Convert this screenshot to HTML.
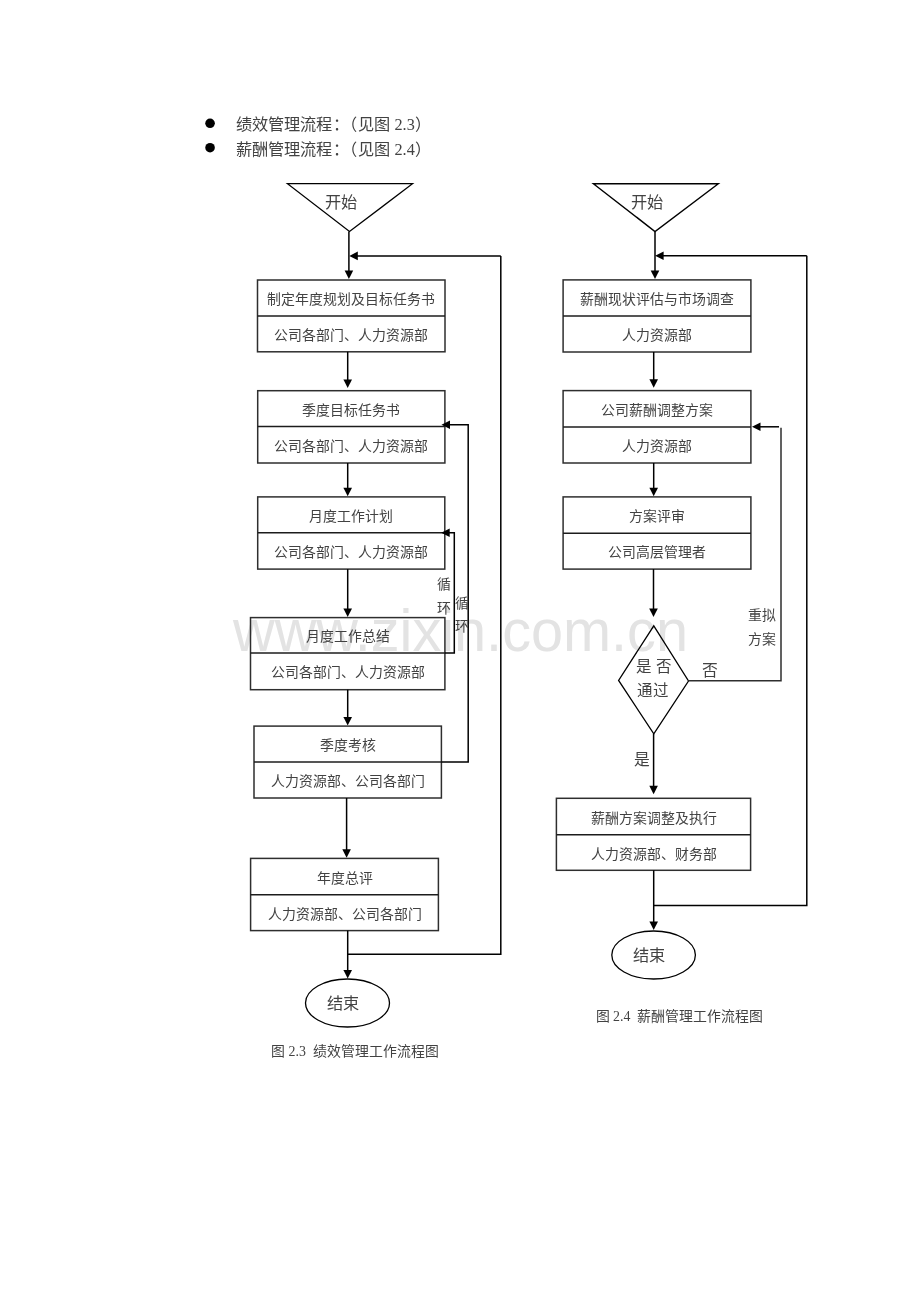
<!DOCTYPE html>
<html lang="zh-CN"><head><meta charset="utf-8"><title>绩效管理流程</title>
<style>
html,body{margin:0;padding:0;background:#fff;}
body{width:920px;height:1302px;overflow:hidden;position:relative;font-family:"Liberation Serif",serif;}
svg{position:absolute;left:0;top:0;will-change:transform;}
text{font-family:"Liberation Serif",serif;fill:#424242;}
</style></head><body>
<svg width="920" height="1302" viewBox="0 0 920 1302">
<text x="233" y="651.2" style="font-family:'Liberation Sans',sans-serif;font-size:59px;fill:#e3e3e3" textLength="455" lengthAdjust="spacingAndGlyphs">www.zixin.com.cn</text>
<circle cx="210.05" cy="123.3" r="4.8" fill="#000"/>
<circle cx="210.05" cy="147.7" r="4.8" fill="#000"/>
<text y="129.5" font-size="16.2"><tspan x="236.2">绩效管理流程</tspan><tspan x="333">：</tspan><tspan x="341">（</tspan><tspan x="357.5">见图</tspan><tspan x="394.5">2.3</tspan><tspan x="415">）</tspan></text>
<text y="155.1" font-size="16.2"><tspan x="236.2">薪酬管理流程</tspan><tspan x="333">：</tspan><tspan x="341">（</tspan><tspan x="357.5">见图</tspan><tspan x="394.5">2.4</tspan><tspan x="415">）</tspan></text>
<path d="M287.5,183.7 L412.5,183.7 L349.5,231.5 Z" fill="none" stroke="#000" stroke-width="1.3" stroke-linejoin="miter"/>
<text x="340.5" y="208.49" font-size="16.2" text-anchor="middle">开始</text>
<line x1="348.9" y1="231.5" x2="348.9" y2="271.6" stroke="#000" stroke-width="1.5"/>
<polygon points="344.60,270.60 353.20,270.60 348.90,279.10" fill="#000"/>
<line x1="500.8" y1="255.9" x2="354" y2="255.9" stroke="#000" stroke-width="1.5"/>
<polygon points="357.80,251.60 357.80,260.20 349.30,255.90" fill="#000"/>
<rect x="257.5" y="280" width="187.50" height="71.80" fill="none" stroke="#2e2e2e" stroke-width="1.5"/>
<line x1="257.5" y1="316" x2="445" y2="316" stroke="#1c1c1c" stroke-width="1.5"/>
<text x="351.25" y="304.00" font-size="13.9" text-anchor="middle">制定年度规划及目标任务书</text>
<text x="351.25" y="339.90" font-size="13.9" text-anchor="middle">公司各部门、人力资源部</text>
<line x1="347.7" y1="351.8" x2="347.7" y2="380.5" stroke="#000" stroke-width="1.5"/>
<polygon points="343.40,379.50 352.00,379.50 347.70,388.00" fill="#000"/>
<rect x="257.7" y="390.7" width="187.20" height="72.30" fill="none" stroke="#2e2e2e" stroke-width="1.5"/>
<line x1="257.7" y1="426.6" x2="444.9" y2="426.6" stroke="#1c1c1c" stroke-width="1.5"/>
<text x="351.29999999999995" y="414.65" font-size="13.9" text-anchor="middle">季度目标任务书</text>
<text x="351.29999999999995" y="450.80" font-size="13.9" text-anchor="middle">公司各部门、人力资源部</text>
<line x1="347.7" y1="463" x2="347.7" y2="488.8" stroke="#000" stroke-width="1.5"/>
<polygon points="343.40,487.80 352.00,487.80 347.70,496.30" fill="#000"/>
<rect x="257.7" y="496.9" width="187.10" height="72.20" fill="none" stroke="#2e2e2e" stroke-width="1.5"/>
<line x1="257.7" y1="532.8" x2="444.8" y2="532.8" stroke="#1c1c1c" stroke-width="1.5"/>
<text x="351.25" y="520.85" font-size="13.9" text-anchor="middle">月度工作计划</text>
<text x="351.25" y="556.95" font-size="13.9" text-anchor="middle">公司各部门、人力资源部</text>
<line x1="347.7" y1="569.1" x2="347.7" y2="609.5" stroke="#000" stroke-width="1.5"/>
<polygon points="343.40,608.50 352.00,608.50 347.70,617.00" fill="#000"/>
<rect x="250.5" y="617.6" width="194.40" height="72.10" fill="none" stroke="#2e2e2e" stroke-width="1.5"/>
<line x1="250.5" y1="653.1" x2="444.9" y2="653.1" stroke="#1c1c1c" stroke-width="1.5"/>
<text x="347.7" y="641.35" font-size="13.9" text-anchor="middle">月度工作总结</text>
<text x="347.7" y="677.40" font-size="13.9" text-anchor="middle">公司各部门、人力资源部</text>
<line x1="347.7" y1="689.7" x2="347.7" y2="718.0" stroke="#000" stroke-width="1.5"/>
<polygon points="343.40,717.00 352.00,717.00 347.70,725.50" fill="#000"/>
<rect x="254.0" y="726.1" width="187.40" height="71.90" fill="none" stroke="#2e2e2e" stroke-width="1.5"/>
<line x1="254.0" y1="762" x2="441.4" y2="762" stroke="#1c1c1c" stroke-width="1.5"/>
<text x="347.7" y="750.05" font-size="13.9" text-anchor="middle">季度考核</text>
<text x="347.7" y="786.00" font-size="13.9" text-anchor="middle">人力资源部、公司各部门</text>
<line x1="346.6" y1="798" x2="346.6" y2="850.3" stroke="#000" stroke-width="1.5"/>
<polygon points="342.30,849.30 350.90,849.30 346.60,857.80" fill="#000"/>
<rect x="250.6" y="858.4" width="187.80" height="72.20" fill="none" stroke="#2e2e2e" stroke-width="1.5"/>
<line x1="250.6" y1="894.7" x2="438.4" y2="894.7" stroke="#1c1c1c" stroke-width="1.5"/>
<text x="344.5" y="882.55" font-size="13.9" text-anchor="middle">年度总评</text>
<text x="344.5" y="918.65" font-size="13.9" text-anchor="middle">人力资源部、公司各部门</text>
<line x1="347.7" y1="930.6" x2="347.7" y2="970.9" stroke="#000" stroke-width="1.5"/>
<polygon points="343.40,969.90 352.00,969.90 347.70,978.40" fill="#000"/>
<ellipse cx="347.5" cy="1003" rx="42" ry="24" fill="none" stroke="#000" stroke-width="1.3"/>
<text x="343" y="1009.39" font-size="16.2" text-anchor="middle">结束</text>
<path d="M347.7,954.2 L500.8,954.2 L500.8,255.9" fill="none" stroke="#000" stroke-width="1.5" stroke-linejoin="miter"/>
<path d="M444.9,653.1 L454.3,653.1 L454.3,532.8 L448,532.8" fill="none" stroke="#000" stroke-width="1.5" stroke-linejoin="miter"/>
<polygon points="449.70,528.50 449.70,537.10 441.20,532.80" fill="#000"/>
<path d="M441.4,762 L468.2,762 L468.2,424.7 L448,424.7" fill="none" stroke="#000" stroke-width="1.5" stroke-linejoin="miter"/>
<polygon points="450.00,420.40 450.00,429.00 441.50,424.70" fill="#000"/>
<text x="444" y="588.50" font-size="13.9" text-anchor="middle">循</text>
<text x="444" y="613.00" font-size="13.9" text-anchor="middle">环</text>
<text x="462.2" y="607.50" font-size="13.9" text-anchor="middle">循</text>
<text x="462.2" y="631.00" font-size="13.9" text-anchor="middle">环</text>
<text x="355" y="1056.30" font-size="13.9" text-anchor="middle">图 2.3&#160;&#160;绩效管理工作流程图</text>
<path d="M593.4,183.7 L718.3,183.7 L655,231.5 Z" fill="none" stroke="#000" stroke-width="1.4" stroke-linejoin="miter"/>
<text x="646.5" y="208.49" font-size="16.2" text-anchor="middle">开始</text>
<line x1="655" y1="231.5" x2="655" y2="271.4" stroke="#000" stroke-width="1.5"/>
<polygon points="650.70,270.40 659.30,270.40 655.00,278.90" fill="#000"/>
<line x1="806.8" y1="255.8" x2="660" y2="255.8" stroke="#000" stroke-width="1.5"/>
<polygon points="663.60,251.50 663.60,260.10 655.10,255.80" fill="#000"/>
<rect x="563.1" y="279.9" width="187.80" height="72.10" fill="none" stroke="#2e2e2e" stroke-width="1.5"/>
<line x1="563.1" y1="316" x2="750.9" y2="316" stroke="#1c1c1c" stroke-width="1.5"/>
<text x="657.0" y="303.95" font-size="13.9" text-anchor="middle">薪酬现状评估与市场调查</text>
<text x="657.0" y="340.00" font-size="13.9" text-anchor="middle">人力资源部</text>
<line x1="653.7" y1="352" x2="653.7" y2="380.3" stroke="#000" stroke-width="1.5"/>
<polygon points="649.40,379.30 658.00,379.30 653.70,387.80" fill="#000"/>
<rect x="563.1" y="390.6" width="187.80" height="72.40" fill="none" stroke="#2e2e2e" stroke-width="1.5"/>
<line x1="563.1" y1="427" x2="750.9" y2="427" stroke="#1c1c1c" stroke-width="1.5"/>
<text x="657.0" y="414.80" font-size="13.9" text-anchor="middle">公司薪酬调整方案</text>
<text x="657.0" y="451.00" font-size="13.9" text-anchor="middle">人力资源部</text>
<line x1="653.7" y1="463" x2="653.7" y2="488.7" stroke="#000" stroke-width="1.5"/>
<polygon points="649.40,487.70 658.00,487.70 653.70,496.20" fill="#000"/>
<rect x="563.1" y="496.9" width="187.80" height="72.20" fill="none" stroke="#2e2e2e" stroke-width="1.5"/>
<line x1="563.1" y1="533.2" x2="750.9" y2="533.2" stroke="#1c1c1c" stroke-width="1.5"/>
<text x="657.0" y="521.05" font-size="13.9" text-anchor="middle">方案评审</text>
<text x="657.0" y="557.15" font-size="13.9" text-anchor="middle">公司高层管理者</text>
<line x1="653.5" y1="569.1" x2="653.5" y2="609.5" stroke="#000" stroke-width="1.5"/>
<polygon points="649.20,608.50 657.80,608.50 653.50,617.00" fill="#000"/>
<path d="M653.8,625.8 L688.5,681 L653.8,733.9 L618.6,680.4 Z" fill="none" stroke="#000" stroke-width="1.3" stroke-linejoin="miter"/>
<text x="655.5" y="671.89" font-size="15.5" text-anchor="middle" letter-spacing="3.5">是否</text>
<text x="652.5" y="695.89" font-size="15.5" text-anchor="middle">通过</text>
<path d="M688.5,680.8 L781,680.8 L781,427.8" fill="none" stroke="#2e2e2e" stroke-width="1.5" stroke-linejoin="miter"/>
<line x1="758" y1="426.8" x2="779" y2="426.8" stroke="#000" stroke-width="1.5"/>
<polygon points="760.50,422.50 760.50,431.10 752.00,426.80" fill="#000"/>
<text x="709.5" y="676.32" font-size="15.8" text-anchor="middle">否</text>
<text x="762" y="620.30" font-size="13.9" text-anchor="middle">重拟</text>
<text x="762" y="644.00" font-size="13.9" text-anchor="middle">方案</text>
<text x="642" y="764.72" font-size="15.8" text-anchor="middle">是</text>
<line x1="653.6" y1="733.9" x2="653.6" y2="786.8" stroke="#000" stroke-width="1.5"/>
<polygon points="649.30,785.80 657.90,785.80 653.60,794.30" fill="#000"/>
<rect x="556.4" y="798.3" width="194.20" height="72.00" fill="none" stroke="#2e2e2e" stroke-width="1.5"/>
<line x1="556.4" y1="834.7" x2="750.6" y2="834.7" stroke="#1c1c1c" stroke-width="1.5"/>
<text x="653.5" y="822.50" font-size="13.9" text-anchor="middle">薪酬方案调整及执行</text>
<text x="653.5" y="858.50" font-size="13.9" text-anchor="middle">人力资源部、财务部</text>
<line x1="653.7" y1="870.3" x2="653.7" y2="922.6" stroke="#000" stroke-width="1.5"/>
<polygon points="649.40,921.60 658.00,921.60 653.70,930.10" fill="#000"/>
<ellipse cx="653.6" cy="955" rx="41.8" ry="24" fill="none" stroke="#000" stroke-width="1.3"/>
<text x="649" y="961.19" font-size="16.2" text-anchor="middle">结束</text>
<path d="M653.7,905.5 L806.8,905.5 L806.8,255.8" fill="none" stroke="#000" stroke-width="1.5" stroke-linejoin="miter"/>
<text x="679.5" y="1020.80" font-size="13.9" text-anchor="middle">图 2.4&#160;&#160;薪酬管理工作流程图</text>
</svg>
</body></html>
